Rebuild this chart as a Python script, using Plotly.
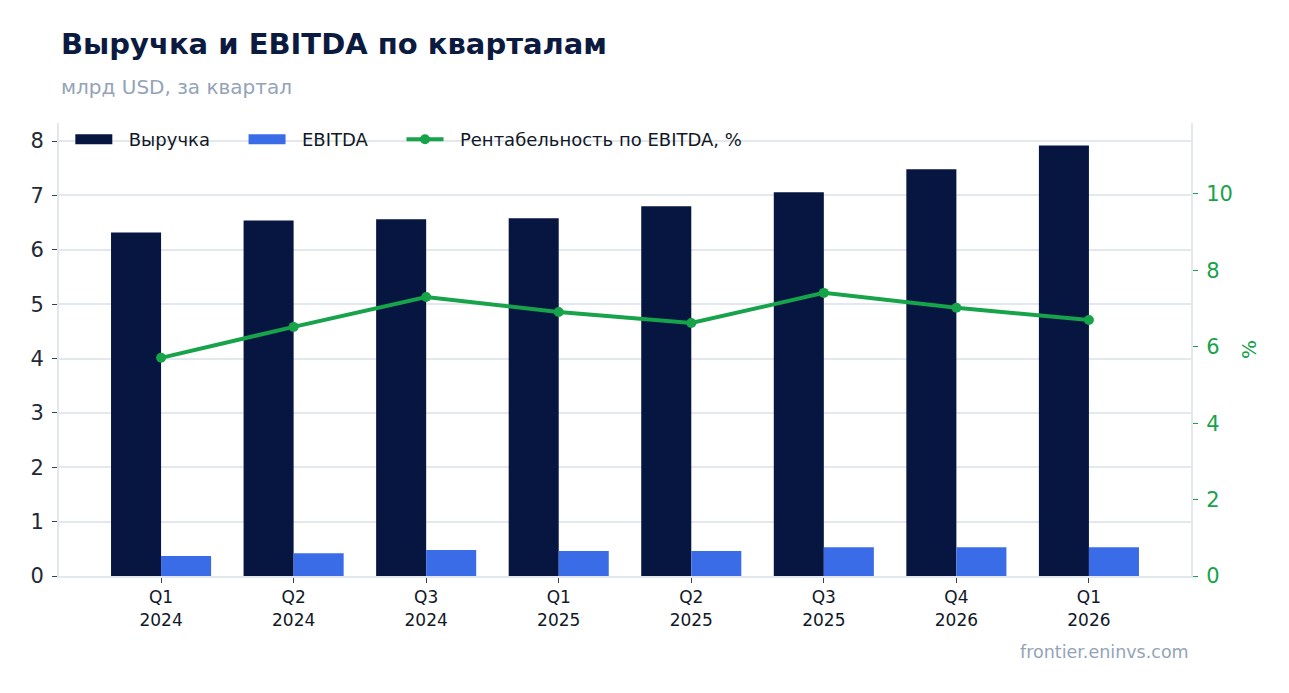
import plotly.graph_objects as go

categories = ["Q1<br>2024", "Q2<br>2024", "Q3<br>2024", "Q1<br>2025",
              "Q2<br>2025", "Q3<br>2025", "Q4<br>2026", "Q1<br>2026"]
revenue = [6.32, 6.54, 6.56, 6.58, 6.80, 7.06, 7.48, 7.92]
ebitda = [0.37, 0.42, 0.48, 0.46, 0.46, 0.53, 0.53, 0.53]
margin = [5.71, 6.52, 7.30, 6.91, 6.62, 7.41, 7.02, 6.70]
series_names = ["Выручка", "EBITDA", "Рентабельность по EBITDA, %"]

NAVY = "#061640"
BLUE = "#3b6ce8"
GREEN = "#16a34a"
GRID = "#e3e8ef"
FONT = "DejaVu Sans"
LEAD = "\u00a0" * 2
TRAIL = "\u00a0" * 5

fig = go.Figure()
fig.add_trace(go.Bar(x=categories, y=revenue, name=series_names[0],
                     marker=dict(color=NAVY, line=dict(width=0)),
                     yaxis="y", showlegend=False))
fig.add_trace(go.Bar(x=categories, y=ebitda, name=series_names[1],
                     marker=dict(color=BLUE, line=dict(width=0)),
                     yaxis="y", showlegend=False))
fig.add_trace(go.Scatter(x=categories, y=margin, name=series_names[2],
                         mode="lines+markers", yaxis="y2",
                         line=dict(color=GREEN, width=4),
                         marker=dict(color=GREEN, size=10), showlegend=False))

# legend entries (swatches only)
fig.add_trace(go.Scatter(x=[None], y=[None], mode="lines",
                         name=LEAD + series_names[0] + TRAIL,
                         line=dict(color=NAVY, width=13), legendrank=1))
fig.add_trace(go.Scatter(x=[None], y=[None], mode="lines",
                         name=LEAD + series_names[1] + TRAIL,
                         line=dict(color=BLUE, width=13), legendrank=2))
fig.add_trace(go.Scatter(x=[None], y=[None], mode="lines+markers",
                         name=LEAD + series_names[2],
                         line=dict(color=GREEN, width=4),
                         marker=dict(color=GREEN, size=10), legendrank=3))

fig.update_layout(
    width=1289, height=693,
    paper_bgcolor="white", plot_bgcolor="white",
    font=dict(family=FONT, color="#1f2937"),
    margin=dict(l=51, r=106, t=115, b=125),
    barmode="group", bargap=0.245, bargroupgap=0,
    showlegend=True,
    legend=dict(orientation="h", x=0.010, y=1.0045, xanchor="left", yanchor="top",
                font=dict(size=18, color="#111827"), bgcolor="rgba(0,0,0,0)",
                traceorder="normal", itemwidth=37),
    xaxis=dict(range=[-0.77, 7.77], showgrid=False, showline=True,
               linecolor=GRID, linewidth=2, ticks="outside", ticklen=5,
               tickcolor="#374151", tickfont=dict(size=17, color="#111827")),
    yaxis=dict(range=[0, max(revenue) * 1.052], showgrid=True, gridcolor=GRID,
               gridwidth=2, showline=True, linecolor=GRID, linewidth=2,
               ticks="outside", ticklen=5, tickcolor="#374151", dtick=1,
               ticklabelstandoff=4,
               tickfont=dict(size=21, color="#1f2937"), zeroline=False),
    yaxis2=dict(range=[0, max(margin) * 1.6], overlaying="y", side="right",
                showgrid=False, showline=True, linecolor=GRID, linewidth=2,
                ticks="outside", ticklen=5, tickcolor=GREEN, dtick=2,
                ticklabelstandoff=4,
                tickfont=dict(size=21, color=GREEN), zeroline=False,
                title=dict(text="%", font=dict(size=20, color=GREEN), standoff=10)),
)

fig.add_annotation(text="<b>Выручка и EBITDA по кварталам</b>", xref="paper", yref="paper",
                   x=0, y=1, xanchor="left", yanchor="bottom", yshift=60,
                   showarrow=False, font=dict(size=29, color="#0b1a3f", family=FONT))
fig.add_annotation(text="млрд USD, за квартал", xref="paper", yref="paper",
                   x=0, y=1, xanchor="left", yanchor="bottom", yshift=22,
                   showarrow=False, font=dict(size=20, color="#94a3b8", family=FONT))
fig.add_annotation(text="frontier.eninvs.com", xref="paper", yref="paper",
                   x=1, y=0, xanchor="right", yanchor="top", yshift=-64,
                   showarrow=False, font=dict(size=17.5, color="#94a3b8", family=FONT))

fig.write_html("out.html")
